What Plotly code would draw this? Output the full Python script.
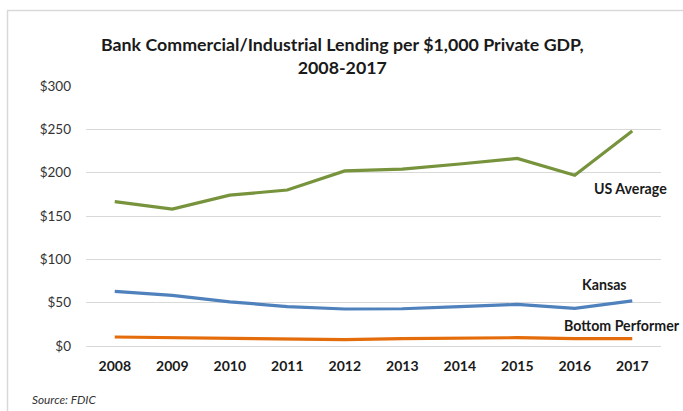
import plotly.graph_objects as go

# Lending per $1,000 of private GDP, by year
years = ["2008", "2009", "2010", "2011", "2012", "2013", "2014", "2015", "2016", "2017"]
us_average = [166.5, 158, 174, 180, 202, 204, 210, 216.5, 197, 248]
kansas = [63, 58.5, 51, 45.5, 42.7, 43, 45.4, 48, 43.4, 52]
bottom_performer = [10.4, 9.6, 8, 7.3, 7.3, 8.5, 9.2, 9.6, 8.5, 8.5]

series_names = ["US Average", "Kansas", "Bottom Performer"]
series_values = [us_average, kansas, bottom_performer]
series_colors = ["#77933C", "#4F81BD", "#E46C0A"]

y_ticks = [0, 50, 100, 150, 200, 250, 300]
y_tick_labels = ["$0", "$50", "$100", "$150", "$200", "$250", "$300"]

W, H = 683, 411
L, R, T, B = 86, 22, 86, 65
PW, PH = W - L - R, H - T - B


def px_x(px):
    return (px - L) / PW


def px_y(py):
    return (H - B - py) / PH


fig = go.Figure()
for name, vals, col in zip(series_names, series_values, series_colors):
    fig.add_trace(go.Scatter(
        x=years, y=vals, name=name, mode="lines",
        line=dict(color=col, width=3.2), hoverinfo="x+y+name",
    ))

font_main = "Lato, 'Open Sans', sans-serif"

# series labels placed beside their lines
label_pos = [(630, 188), (604, 284), (622, 325)]
annotations = []
for name, (lx, ly) in zip(series_names, label_pos):
    annotations.append(dict(
        text=f"<b>{name}</b>", x=px_x(lx), y=px_y(ly), xref="paper", yref="paper",
        showarrow=False, xanchor="center", yanchor="middle",
        font=dict(family=font_main, size=14.2, color="#1a1a1a"),
    ))

annotations.append(dict(
    text="<b>Bank Commercial/Industrial Lending per $1,000 Private GDP,</b><br><b>2008-2017</b>",
    x=px_x(342), y=px_y(56), xref="paper", yref="paper", showarrow=False,
    xanchor="center", yanchor="middle", align="center",
    font=dict(family=font_main, size=17.8, color="#1a1a1a"),
))
annotations.append(dict(
    text="<i>Source: FDIC</i>", x=px_x(30), y=px_y(399), xref="paper", yref="paper",
    showarrow=False, xanchor="left", yanchor="middle",
    font=dict(family=font_main, size=11.8, color="#333333"),
))

# light frame along the top and left edges
frame = dict(type="line", xref="paper", yref="paper",
             line=dict(color="#D9D9D9", width=1.5))
shapes = [
    dict(frame, x0=px_x(7), x1=px_x(690), y0=px_y(10.5), y1=px_y(10.5)),
    dict(frame, x0=px_x(7.5), x1=px_x(7.5), y0=px_y(10), y1=px_y(420)),
]

fig.update_layout(
    width=W, height=H,
    margin=dict(l=L, r=R, t=T, b=B),
    paper_bgcolor="white", plot_bgcolor="white",
    showlegend=False,
    annotations=annotations,
    shapes=shapes,
    xaxis=dict(
        type="category", categoryorder="array", categoryarray=years,
        range=[-0.5, len(years) - 0.5],
        showgrid=False, showline=False, zeroline=False, ticks="",
        tickfont=dict(family=font_main, size=14, color="#1a1a1a", weight="bold"),
        ticklabelstandoff=10, fixedrange=True,
    ),
    yaxis=dict(
        range=[0, 300], tickvals=y_ticks, ticktext=y_tick_labels,
        showgrid=True, gridcolor="#D9D9D9", gridwidth=1,
        zeroline=True, zerolinecolor="#D9D9D9", zerolinewidth=1,
        showline=False, ticks="",
        tickfont=dict(family=font_main, size=13.5, color="#333333"),
        ticklabelstandoff=14, fixedrange=True,
    ),
)

fig.write_html("out.html")
